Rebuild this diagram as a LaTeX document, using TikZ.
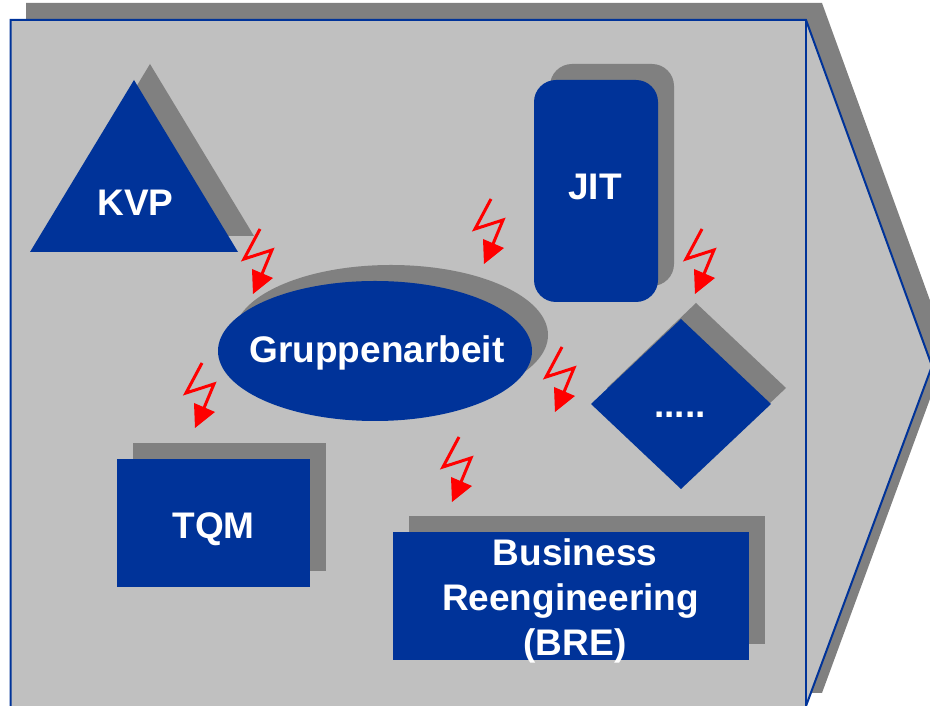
\documentclass[tikz,border=0pt]{standalone}
\usepackage{fontspec}
\setmainfont{Liberation Sans}
\definecolor{navy}{HTML}{003399}
\definecolor{shadowgrey}{HTML}{808080}
\definecolor{panel}{HTML}{C0C0C0}
\definecolor{boltred}{HTML}{FF0000}
\tikzset{
  shadowfill/.style={fill=shadowgrey,draw=none},
  bluefill/.style={fill=navy,draw=none},
  lab/.style={text=white,font=\fontsize{37}{44}\selectfont\bfseries,align=center,inner sep=0pt},
  pics/zap/.style={code={
    \draw[boltred,line width=3pt,line join=miter] (7,65) -- (-9,35) -- (19,44) -- (9,20);
    \fill[boltred] (0,0) -- (-1,25) -- (20,16) -- cycle;
  }}
}
\begin{document}
\begin{tikzpicture}[x=1pt,y=1pt]
\useasboundingbox (0,0) rectangle (930,706);
\clip (0,0) rectangle (930,706);
% y measured upward: Y = 706 - y_px
% big arrow
\fill[shadowfill] (26,703) -- (822,703) -- (948,356) -- (822,13) -- (26,13) -- cycle;
\draw[fill=panel,draw=navy,line width=2pt,line join=miter] (10.5,-5) -- (10.5,686) -- (806,686) -- (932,340) -- (806,0) -- (806,-5) -- cycle;
\draw[navy,line width=2pt] (806,686) -- (806,-5);
% triangle
\fill[shadowfill] (46,470) -- (254,470) -- (150,642) -- cycle;
\fill[bluefill] (30,454) -- (238,454) -- (134,626) -- cycle;
\node[lab] (kvp) at (135.5,503) {KVP};
% JIT
\fill[shadowfill,rounded corners=22pt] (550,420) rectangle (674,642);
\fill[bluefill,rounded corners=22pt] (534,404) rectangle (658,626);
\node[lab] (jit) at (595,519) {JIT};
% Gruppenarbeit
\fill[shadowfill] (391,371) ellipse [x radius=157,y radius=70];
\fill[bluefill] (375,355) ellipse [x radius=157,y radius=70];
\node[lab] (ga) at (377,353) {Gruppenarbeit};
% diamond
\fill[shadowfill] (607,318) -- (696,403) -- (786,318) -- (696,233) -- cycle;
\fill[bluefill] (591,302) -- (681,387) -- (771,302) -- (681,217) -- cycle;
\node[lab] (dots) at (680,291) {.....};
% TQM
\fill[shadowfill] (133,135) rectangle (326,263);
\fill[bluefill] (117,119) rectangle (310,247);
\node[lab] (tqm) at (213.5,176.5) {TQM};
% BRE
\fill[shadowfill] (409,62) rectangle (765,190);
\fill[bluefill] (393,46) rectangle (749,174);
\node[lab] (bre1) at (575,154) {Business};
\node[lab] (bre2) at (570.5,105) {Reengineering};
\node[lab] (bre3) at (575,60) {(BRE)};
% bolts
\pic at (253,412) {zap};
\pic at (484,442) {zap};
\pic at (695,412) {zap};
\pic at (555,294) {zap};
\pic at (452,204) {zap};
\pic at (195,278) {zap};
\end{tikzpicture}
\end{document}
